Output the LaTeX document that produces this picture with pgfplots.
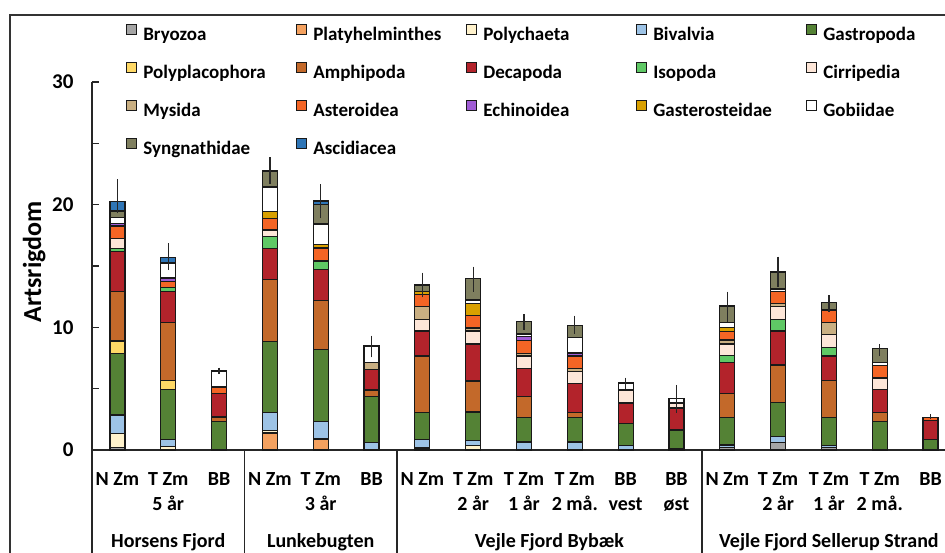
\documentclass[border=0pt]{standalone}
\usepackage{pgfplots}
\pgfplotsset{compat=1.18}
\usepackage{pgfplotstable}
\usepackage{fontspec}
\setmainfont{Carlito}

\definecolor{cBry}{HTML}{A5A5A5}
\definecolor{cPla}{HTML}{F4A15F}
\definecolor{cPol}{HTML}{FFF2CC}
\definecolor{cBiv}{HTML}{9DC3E6}
\definecolor{cGas}{HTML}{548235}
\definecolor{cPpl}{HTML}{FFD966}
\definecolor{cAmp}{HTML}{C3692A}
\definecolor{cDec}{HTML}{B3232B}
\definecolor{cIso}{HTML}{5FC865}
\definecolor{cCir}{HTML}{FDE6D8}
\definecolor{cMys}{HTML}{C9AF82}
\definecolor{cAst}{HTML}{F46525}
\definecolor{cEch}{HTML}{A05CD5}
\definecolor{cGst}{HTML}{D9A000}
\definecolor{cGob}{HTML}{FFFFFF}
\definecolor{cSyn}{HTML}{7F7F5F}
\definecolor{cAsc}{HTML}{2E75B6}

% artsrigdom pr. station, en kolonne pr. taxon
\pgfplotstableread{
x  Bry  Pla  Pol  Biv  Gas  Ppl  Amp  Dec  Iso  Cir  Mys  Ast  Ech  Gst  Gob  Syn  Asc  ep   em
0  0.22 0    1.14 1.49 5.03 1.01 4.02 3.26 0.27 0.82 0    1.00 0.22 0    0.46 0.54 0.76 1.83 0.95
1  0    0    0.30 0.54 4.08 0.76 4.73 2.52 0.33 0    0    0.49 0.27 0    1.22 0    0.47 1.14 1.04
2  0    0    0    0    2.34 0    0.35 1.90 0    0    0    0.55 0    0    1.30 0    0    0.27 0.24
3  0    1.39 0.22 1.44 5.81 0    5.03 2.53 0.98 0.54 0    0.95 0    0.54 2.01 1.31 0    1.10 1.06
4  0    0.90 0    1.44 5.87 0    3.96 2.53 0.71 0    0    1.06 0    0.27 1.68 1.61 0.27 1.36 1.41
5  0    0    0    0.63 3.75 0    0.51 1.69 0    0    0.54 0    0    0    1.36 0    0    0.84 0.93
6  0.16 0    0    0.68 2.23 0    4.59 2.04 0    0.93 1.08 0.95 0    0.25 0    0.54 0    1.01 1.00
7  0    0    0.35 0.44 2.31 0    2.53 3.01 0    1.06 0.25 1.03 0    0.98 0.27 1.74 0    0.98 1.06
8  0    0    0    0.65 2.01 0    1.69 2.28 0    1.03 0.22 1.06 0.33 0    0.19 1.00 0    0.60 0.68
9  0    0    0    0.65 1.99 0    0.43 2.36 0    0.96 0.27 1.00 0.25 0    1.25 1.00 0    0.79 0.70
10 0    0    0    0.38 1.77 0    0    1.68 0    1.06 0    0    0    0    0.57 0    0    0.44 0.51
11 0    0    0    0.14 1.49 0    0    1.79 0    0.41 0    0    0    0    0.35 0    0    1.12 1.14
12 0.22 0    0    0.19 2.25 0    1.93 2.56 0.54 0.95 0.33 0.70 0    0.30 0.44 1.33 0    1.17 1.28
13 0.60 0    0    0.49 2.77 0    3.07 2.77 0.95 1.03 0.25 0.98 0    0    0.22 1.38 0    1.25 1.19
14 0.22 0    0    0.16 2.28 0    3.02 1.98 0.71 1.03 1.01 1.00 0    0    0    0.60 0    0.63 0.73
15 0    0    0    0    2.34 0    0.70 1.91 0    0.92 0    1.03 0    0    0.22 1.14 0    0.38 0.60
16 0    0    0    0    0.87 0    0    1.52 0    0    0    0.27 0    0    0    0    0    0.25 0.16
}\arter

\begin{document}
\begin{tikzpicture}[x=1pt,y=1pt]
\useasboundingbox (0,0) rectangle (945,552);
\draw[line width=1.4pt, black!80] (10,-20) rectangle (980,537);
\begin{axis}[
    at={(92pt,102pt)}, anchor=south west,
    scale only axis, width=864pt, height=368pt,
    ybar stacked, bar width=15pt, reverse stacked plots=false,
    xmin=-0.5, xmax=16.5, ymin=0, ymax=30,
    clip=false,
    axis x line=bottom, axis y line=left,
    axis line style={-, line width=1.3pt, black!85},
    ytick={0,10,20,30}, minor ytick={5,15,25},
    tick align=inside, major tick length=7pt, minor tick length=7pt,
    ytick style={line width=1.2pt, black!85},
    /pgf/number format/assume math mode=true,
    yticklabel style={font=\fontsize{21}{21}\selectfont\bfseries, xshift=-15pt},
    xtick=data,
    xtick style={draw=none},
    xticklabels={{N Zm},{T Zm\\5 år},{BB},{N Zm},{T Zm\\3 år},{BB},{N Zm},{T Zm\\2 år},{T Zm\\1 år},{T Zm\\2 må.},{BB\\vest},{BB\\øst},{N Zm},{T Zm\\2 år},{T Zm\\1 år},{T Zm\\2 må.},{BB}},
    xticklabel style={font=\fontsize{20}{25}\selectfont\bfseries, align=center, anchor=north, inner sep=0pt, yshift=-22pt},
    extra x ticks={-0.5,2.5,5.5,11.5,16.5},
    extra x tick labels={},
    extra x tick style={tick align=outside, major tick length=110pt, xtick style={draw=black!85, line width=1.3pt}},
    ylabel={Artsrigdom},
    every axis y label/.style={at={(axis description cs:-0.067,0.511)}, rotate=90, anchor=center, font=\fontsize{26}{26}\selectfont\bfseries},
    every axis plot/.append style={draw=black!90, line width=1.2pt},
    legend image code/.code={\draw[#1, line width=1pt] (0pt,0.5pt) rectangle (10pt,10.5pt);},
    legend columns=5,
    legend style={at={(axis description cs:0.0395,1.158)}, anchor=north west, draw=none, fill=none,
        inner sep=0pt, row sep=19.5pt,
        font=\fontsize{19}{19}\selectfont\bfseries,
        nodes={inner sep=0pt},
        /tikz/every odd column/.append style={column sep=6pt}},
  ]
\addplot[fill=cBry] table[x=x, y=Bry]{\arter}; \addlegendentry{\makebox[153pt][l]{Bryozoa}}
\addplot[fill=cPla] table[x=x, y=Pla]{\arter}; \addlegendentry{\makebox[153pt][l]{Platyhelminthes}}
\addplot[fill=cPol] table[x=x, y=Pol]{\arter}; \addlegendentry{\makebox[153pt][l]{Polychaeta}}
\addplot[fill=cBiv] table[x=x, y=Biv]{\arter}; \addlegendentry{\makebox[153pt][l]{Bivalvia}}
\addplot[fill=cGas] table[x=x, y=Gas]{\arter}; \addlegendentry{\makebox[153pt][l]{Gastropoda}}
\addplot[fill=cPpl] table[x=x, y=Ppl]{\arter}; \addlegendentry{\makebox[153pt][l]{Polyplacophora}}
\addplot[fill=cAmp] table[x=x, y=Amp]{\arter}; \addlegendentry{\makebox[153pt][l]{Amphipoda}}
\addplot[fill=cDec] table[x=x, y=Dec]{\arter}; \addlegendentry{\makebox[153pt][l]{Decapoda}}
\addplot[fill=cIso] table[x=x, y=Iso]{\arter}; \addlegendentry{\makebox[153pt][l]{Isopoda}}
\addplot[fill=cCir] table[x=x, y=Cir]{\arter}; \addlegendentry{\makebox[153pt][l]{Cirripedia}}
\addplot[fill=cMys] table[x=x, y=Mys]{\arter}; \addlegendentry{\makebox[153pt][l]{Mysida}}
\addplot[fill=cAst] table[x=x, y=Ast]{\arter}; \addlegendentry{\makebox[153pt][l]{Asteroidea}}
\addplot[fill=cEch] table[x=x, y=Ech]{\arter}; \addlegendentry{\makebox[153pt][l]{Echinoidea}}
\addplot[fill=cGst] table[x=x, y=Gst]{\arter}; \addlegendentry{\makebox[153pt][l]{Gasterosteidae}}
\addplot[fill=cGob] table[x=x, y=Gob]{\arter}; \addlegendentry{\makebox[153pt][l]{Gobiidae}}
\addplot[fill=cSyn] table[x=x, y=Syn]{\arter}; \addlegendentry{\makebox[153pt][l]{Syngnathidae}}
\addplot[fill=cAsc, error bars/.cd, y dir=both, y explicit,
    error bar style={line width=1.3pt, black!85}, error mark=none]
    table[x=x, y=Asc, y error plus=ep, y error minus=em]{\arter};
\addlegendentry{\makebox[153pt][l]{Ascidiacea}}

\node[font=\fontsize{20}{20}\selectfont\bfseries, anchor=base] at (axis cs:1,0) [yshift=-97pt] {Horsens Fjord};
\node[font=\fontsize{20}{20}\selectfont\bfseries, anchor=base] at (axis cs:4,0) [yshift=-97pt] {Lunkebugten};
\node[font=\fontsize{20}{20}\selectfont\bfseries, anchor=base] at (axis cs:8.5,0) [yshift=-97pt] {Vejle Fjord Bybæk};
\node[font=\fontsize{20}{20}\selectfont\bfseries, anchor=base] at (axis cs:14,0) [yshift=-97pt] {Vejle Fjord Sellerup Strand};
\end{axis}
\end{tikzpicture}
\end{document}
